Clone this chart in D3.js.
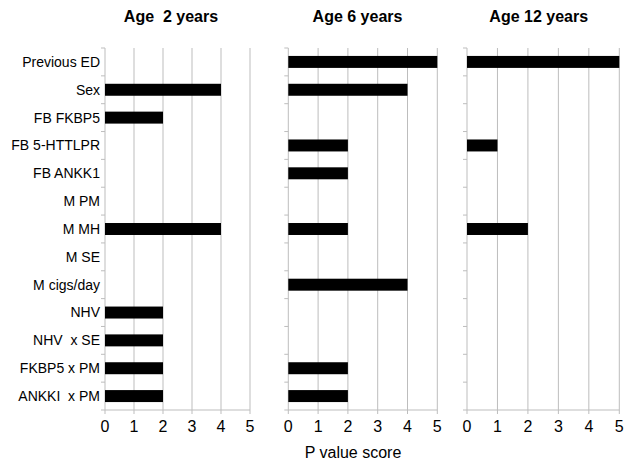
<!DOCTYPE html>
<html><head><meta charset="utf-8">
<script src="https://cdn.jsdelivr.net/npm/d3@7"></script>
<style>body{margin:0;background:#fff}svg text{white-space:pre}</style>
</head><body>
<script>
const categories = ["Previous ED","Sex","FB FKBP5","FB 5-HTTLPR","FB ANKK1","M PM","M MH","M SE","M cigs/day","NHV","NHV  x SE","FKBP5 x PM","ANKKI  x PM"];
const titles = ["Age  2 years","Age 6 years","Age 12 years"];
const age2 = [0,4,2,0,0,0,4,0,0,2,2,2,2];
const age6 = [5,4,0,2,2,0,2,0,4,0,0,2,2];
const age12 = [5,0,0,1,0,0,2,0,0,0,0,0,0];
const xTicks = [0,1,2,3,4,5];
const xLabel = "P value score";

(function(){
const series = [age2, age6, age12];
const panels = [{x0:105,x1:250,tx:171},{x0:288.3,x1:437.3,tx:357.5},{x0:467,x1:619.3,tx:538.7}];
const plotTop = 48, plotBottom = 410;
const grid = "#bdbdbd";
const font = "Liberation Sans, Arial, sans-serif";

const svg = d3.select("body").append("svg").attr("width",629).attr("height",467);
const y = d3.scaleBand().domain(categories).range([plotTop,plotBottom]).paddingInner(0.57).paddingOuter(0.285);
const yb = d3.scaleBand().domain(categories).range([plotTop,plotBottom]);

panels.forEach((p,i)=>{
  const x = d3.scaleLinear().domain([0,5]).range([p.x0,p.x1]);
  const g = svg.append("g");
  g.selectAll("line.grid").data(xTicks.slice(1)).join("line")
    .attr("x1",d=>x(d)).attr("x2",d=>x(d)).attr("y1",plotTop).attr("y2",plotBottom)
    .attr("stroke",grid).attr("stroke-width",1);
  g.append("line").attr("x1",x(0)).attr("x2",x(0)).attr("y1",plotTop).attr("y2",plotBottom).attr("stroke",grid);
  g.selectAll("line.yt").data(categories.map((c,k)=>k)).join("line")
    .attr("x1",x(0)-4).attr("x2",x(0)).attr("y1",k=>yb.step()*k+plotTop).attr("y2",k=>yb.step()*k+plotTop)
    .attr("stroke",grid);
  g.append("line").attr("x1",x(0)-4).attr("x2",x(5)).attr("y1",plotBottom).attr("y2",plotBottom).attr("stroke",grid);
  g.selectAll("line.xt").data(xTicks).join("line")
    .attr("x1",d=>x(d)).attr("x2",d=>x(d)).attr("y1",plotBottom).attr("y2",plotBottom+4).attr("stroke",grid);
  g.selectAll("text.xl").data(xTicks).join("text")
    .attr("x",d=>x(d)).attr("y",432).attr("text-anchor","middle")
    .attr("font-family",font).attr("font-size",16).attr("fill","#000").text(d=>d);
  g.selectAll("rect").data(series[i].map((v,k)=>({c:categories[k],v}))).join("rect")
    .attr("x",x(0)).attr("y",d=>y(d.c)).attr("width",d=>x(d.v)-x(0)).attr("height",y.bandwidth())
    .attr("fill","#000");
  svg.append("text").attr("x",p.tx).attr("y",22).attr("text-anchor","middle")
    .attr("font-family",font).attr("font-weight","bold").attr("font-size",16).text(titles[i]);
});

svg.selectAll("text.cat").data(categories).join("text")
  .attr("x",100).attr("y",d=>yb(d)+yb.bandwidth()/2).attr("dy","0.35em").attr("text-anchor","end")
  .attr("font-family",font).attr("font-size",14).attr("fill","#000").text(d=>d);

svg.append("text").attr("x",353).attr("y",458).attr("text-anchor","middle")
  .attr("font-family",font).attr("font-size",16).text(xLabel);
})();
</script>
</body></html>
